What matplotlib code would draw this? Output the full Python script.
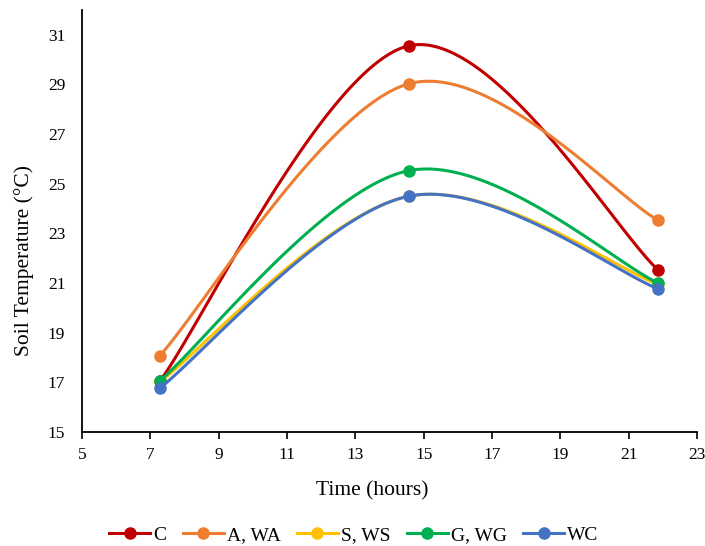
import matplotlib.pyplot as plt
import numpy as np

plt.rcParams['font.family'] = ['Liberation Serif', 'DejaVu Serif']

hours = [7.28, 14.57, 21.86]
series_names = ["C", "A, WA", "S, WS", "G, WG", "WC"]
temp_c = [17.05, 30.56, 21.53]
temp_a = [18.08, 29.03, 23.53]
temp_s = [17.02, 24.50, 20.95]
temp_g = [17.06, 25.53, 21.00]
temp_wc = [16.77, 24.50, 20.77]
colors = ["#C00000", "#ED7D31", "#FFC000", "#00B050", "#4472C4"]


def excel_smooth(x, y, n=60):
    # Catmull-Rom style bezier, roughly what Excel's "smoothed line" does
    pts = np.column_stack((x, y)).astype(float)
    out = []
    for i in range(len(pts) - 1):
        p0 = pts[max(i - 1, 0)]
        p1 = pts[i]
        p2 = pts[i + 1]
        p3 = pts[min(i + 2, len(pts) - 1)]
        c1 = p1 + (p2 - p0) / 6
        c2 = p2 - (p3 - p1) / 6
        t = np.linspace(0, 1, n)[:, None]
        seg = ((1 - t) ** 3) * p1 + 3 * ((1 - t) ** 2) * t * c1 + 3 * (1 - t) * t ** 2 * c2 + t ** 3 * p2
        out.append(seg if i == 0 else seg[1:])
    out = np.vstack(out)
    return out[:, 0], out[:, 1]


fig = plt.figure(figsize=(7.05, 5.46), dpi=100)
ax = fig.add_axes([0.1163, 0.2088, 0.8724, 0.7729])

for name, vals, col in zip(series_names, [temp_c, temp_a, temp_s, temp_g, temp_wc], colors):
    sx, sy = excel_smooth(hours, vals)
    ax.plot(sx, sy, color=col, lw=2.2, solid_capstyle='round')
    ax.plot(hours, vals, 'o', color=col, ms=8)
    ax.plot([], [], color=col, lw=2.2, marker='o', ms=8, label=name)

ax.set_xlim(5, 23)
ax.set_ylim(15, 32)
ax.set_xticks(range(5, 24, 2))
ax.set_yticks(range(15, 32, 2))
ax.tick_params(axis='x', direction='out', length=5, width=1.2, labelsize=12.5, pad=6)
ax.tick_params(axis='y', length=0, labelsize=12.5, pad=12)
for s in ['top', 'right']:
    ax.spines[s].set_visible(False)
for s in ['left', 'bottom']:
    ax.spines[s].set_linewidth(1.3)

fig.text(372 / 705, 1 - 491 / 546, "Time (hours)", fontsize=15.5, ha='center', va='center')
fig.text(24 / 705, 1 - 260 / 546, "Soil Temperature (°C)", fontsize=15.5,
         ha='center', va='center', rotation=90)

fig.legend(loc='center', bbox_to_anchor=(354 / 705, 1 - 535 / 546), ncol=5, frameon=False,
           fontsize=14, handlelength=2.1, columnspacing=0.85, handletextpad=0.16,
           borderaxespad=0, borderpad=0)

fig.savefig("out.png", dpi=100)
